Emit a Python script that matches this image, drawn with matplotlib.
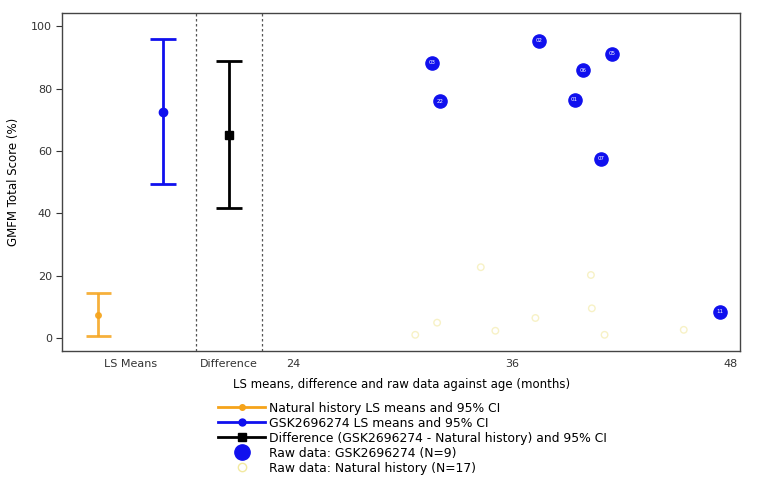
import matplotlib.pyplot as plt
from matplotlib.lines import Line2D

plt.rcParams['font.family'] = ['DejaVu Sans']

# LS means and 95% CI (GMFM total score, %)
nh_mean, nh_lo, nh_hi = 7.4, 0.6, 14.3
gsk_mean, gsk_lo, gsk_hi = 72.4, 49.3, 96.0
diff_mean, diff_lo, diff_hi = 65.2, 41.6, 88.8

# raw data: GSK2696274 (age in months, score, subject id)
gsk_age = [31.6, 32.05, 37.5, 41.5, 39.9, 39.45, 40.9, 47.45]
gsk_score = [88.3, 75.9, 95.4, 91.2, 86.0, 76.4, 57.5, 8.4]
gsk_id = ["03", "22", "02", "05", "06", "01", "07", "11"]

# raw data: natural history (faint in the source)
nh_age = [34.3, 31.9, 30.7, 35.1, 37.3, 40.35, 40.4, 41.1, 45.45]
nh_score = [22.7, 4.9, 1.0, 2.3, 6.4, 20.2, 9.5, 1.0, 2.6]

# position of the categorical blocks on the shared x axis
x_nh, x_gsk, x_diff = 13.25, 16.86, 20.48
x_lsm_lab = 15.06
sep_lines = [18.67, 22.27]
age_ticks = [24, 36, 48]

orange = "#f5a31a"
blue = "#1010ee"
black = "#000000"
pale = "#f2e9a0"

fig = plt.figure(figsize=(7.61, 4.79), dpi=100)
ax = fig.add_axes([0.0819, 0.2672, 0.8905, 0.7063])

ax.errorbar([x_nh], [nh_mean], yerr=[[nh_mean - nh_lo], [nh_hi - nh_mean]],
            color=orange, marker="o", ms=4, lw=2, capsize=9, capthick=2,
            mfc=orange, alpha=0.85)
ax.errorbar([x_gsk], [gsk_mean], yerr=[[gsk_mean - gsk_lo], [gsk_hi - gsk_mean]],
            color=blue, marker="o", ms=6, lw=2, capsize=9.5, capthick=2)
ax.errorbar([x_diff], [diff_mean], yerr=[[diff_mean - diff_lo], [diff_hi - diff_mean]],
            color=black, marker="s", ms=6, lw=2, capsize=9.5, capthick=2)

ax.scatter(nh_age, nh_score, s=22, facecolors="none", edgecolors=pale,
           linewidths=1, alpha=0.6, zorder=2)
ax.scatter(gsk_age, gsk_score, s=90, color=blue, zorder=3)
for a, s, t in zip(gsk_age, gsk_score, gsk_id):
    ax.text(a, s, t, color="white", fontsize=4, ha="center", va="center", zorder=4)

for xv in sep_lines:
    ax.axvline(xv, color="#555555", ls=(0, (2, 2)), lw=0.9)

ax.set_xlim(11.31, 48.54)
ax.set_ylim(-4.2, 104.4)
ax.set_xticks([x_lsm_lab, x_diff] + age_ticks)
ax.set_xticklabels(["LS Means", "Difference"] + [str(t) for t in age_ticks])
ax.tick_params(axis="x", length=0, labelsize=8, pad=6, colors="#333333")
ax.set_yticks([0, 20, 40, 60, 80, 100])
ax.tick_params(axis="y", length=4, labelsize=8, colors="#333333")
for sp in ax.spines.values():
    sp.set_color("#444444")
    sp.set_linewidth(1.0)

ax.set_ylabel("GMFM Total Score (%)", fontsize=8.5, labelpad=8)
ax.set_xlabel("LS means, difference and raw data against age (months)",
              fontsize=8.5, labelpad=6)

handles = [
    Line2D([], [], color=orange, lw=2, marker="o", ms=4),
    Line2D([], [], color=blue, lw=2, marker="o", ms=5),
    Line2D([], [], color=black, lw=2, marker="s", ms=6),
    Line2D([], [], color=blue, lw=0, marker="o", ms=11),
    Line2D([], [], color=pale, lw=0, marker="o", ms=6, mfc="none"),
]
labels = [
    "Natural history LS means and 95% CI",
    "GSK2696274 LS means and 95% CI",
    "Difference (GSK2696274 - Natural history) and 95% CI",
    "Raw data: GSK2696274 (N=9)",
    "Raw data: Natural history (N=17)",
]
fig.legend(handles, labels, loc="upper left", bbox_to_anchor=(0.2866, 0.1615),
           frameon=False, fontsize=8.9, handlelength=3.8, handletextpad=0.3,
           labelspacing=0.16, borderpad=0, borderaxespad=0)

fig.savefig("out.png", dpi=100)
